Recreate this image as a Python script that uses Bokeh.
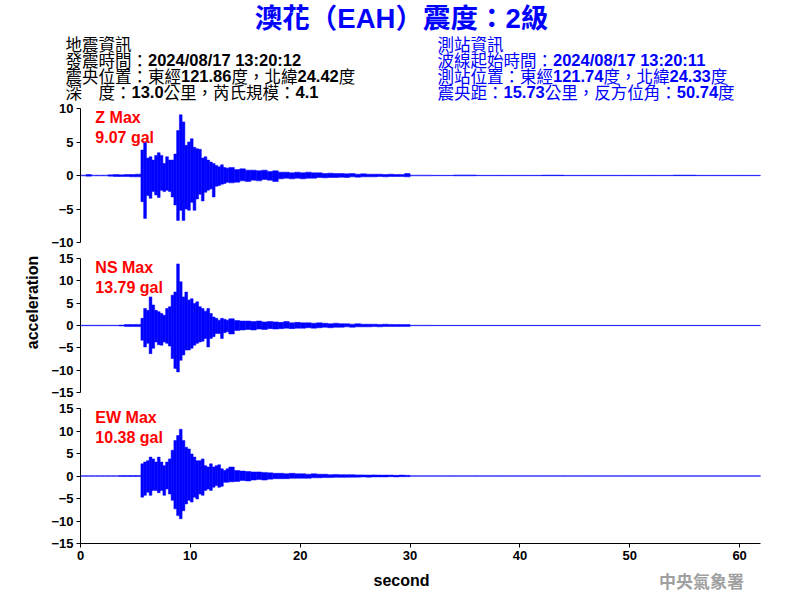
import math
import numpy as np
from bokeh.plotting import figure
from bokeh.layouts import column, row
from bokeh.models import Range1d, FixedTicker, Label
from bokeh.embed import file_html
from bokeh.resources import INLINE

# ---------------- data ----------------
title_text = "澳花（EAH）震度：2級"
quake_info = ["地震資訊",
              "發震時間：2024/08/17 13:20:12",
              "震央位置：東經121.86度，北緯24.42度",
              "深　度：13.0公里，芮氏規模：4.1"]
station_info = ["測站資訊",
                "波線起始時間：2024/08/17 13:20:11",
                "測站位置：東經121.74度，北緯24.33度",
                "震央距：15.73公里，反方位角：50.74度"]
components = ["Z", "NS", "EW"]
max_gal = ["9.07", "13.79", "10.38"]
y_limits = [10, 15, 15]
y_ticks = [[-10, -5, 0, 5, 10], [-15, -10, -5, 0, 5, 10, 15], [-15, -10, -5, 0, 5, 10, 15]]
x_ticks = [0, 10, 20, 30, 40, 50, 60]
x_max = 61.9

# time bins (start, end, width) for the envelope segments
seg_pre = (0.0, 5.5, 0.5)
seg_dense = (5.5, 13.5, 0.25)
seg_coda = (13.5, 30.0, 0.5)
seg_tail = (30.0, 62.0, 2.0)

# Z component envelope (gal)
z_pre_up = [0.05, 0.15, 0.05, 0.05, 0.05, 0.1, 0.15, 0.1, 0.15, 0.15, 0.2]
z_pre_lo = [-0.05, -0.1, -0.05, -0.05, -0.05, -0.1, -0.15, -0.15, -0.15, -0.2, -0.2]
z_up = [3.8, 5.0, 2.6, 2.8, 2.3, 3.0, 3.4, 3.0, 1.8, 2.8, 2.3, 2.3, 3.2, 6.7, 9.07, 8.0,
        4.5, 5.0, 5.5, 4.2, 4.0, 3.9, 2.6, 2.8, 2.3, 2.0, 1.8, 1.5, 1.3, 1.6, 1.2, 1.1]
z_lo = [-3.9, -6.4, -3.0, -3.4, -2.4, -2.9, -3.3, -2.2, -2.4, -2.2, -2.4, -3.2, -4.4, -6.7, -5.2, -6.7,
        -5.0, -5.2, -4.0, -5.2, -3.5, -2.8, -3.8, -2.5, -2.2, -2.0, -3.2, -1.6, -1.5, -1.3, -1.2, -1.0]
z_coda_up = [1.2, 0.9, 1.0, 0.8, 0.8, 0.7, 0.8, 0.6, 0.7, 0.5, 0.5, 0.4, 0.5, 0.4, 0.5, 0.4, 0.4,
             0.3, 0.35, 0.3, 0.3, 0.25, 0.3, 0.2, 0.25, 0.2, 0.2, 0.2, 0.15, 0.2, 0.15, 0.15, 0.3]
z_coda_lo = [-1.1, -1.0, -0.8, -0.9, -0.7, -0.8, -0.6, -0.7, -0.9, -0.5, -0.4, -0.5, -0.4, -0.5, -0.4, -0.4,
             -0.3, -0.35, -0.3, -0.3, -0.25, -0.3, -0.2, -0.25, -0.2, -0.2, -0.2, -0.15, -0.2, -0.15, -0.15, -0.15, -0.2]
z_tail_up = [0.05, 0.03, 0.08, 0.03, 0.03, 0.03, 0.06, 0.03, 0.03, 0.03, 0.03, 0.03, 0.06, 0.03, 0.03, 0.03]
z_tail_lo = [-0.05, -0.03, -0.05, -0.03, -0.03, -0.03, -0.03, -0.03, -0.03, -0.03, -0.03, -0.03, -0.03, -0.03, -0.03, -0.03]

# NS component envelope (gal)
ns_pre_up = [0.05, 0.05, 0.05, 0.05, 0.05, 0.05, 0.05, 0.1, 0.2, 0.2, 0.25]
ns_pre_lo = [-0.05, -0.05, -0.05, -0.05, -0.05, -0.05, -0.05, -0.1, -0.2, -0.2, -0.25]
ns_up = [1.6, 3.8, 3.4, 6.4, 4.6, 3.4, 3.1, 2.7, 2.3, 3.8, 4.2, 6.8, 7.5, 13.79, 9.8, 6.4,
         7.5, 5.7, 6.0, 4.9, 5.3, 4.2, 3.8, 3.2, 3.8, 2.7, 1.9, 1.6, 1.2, 1.6, 1.4, 1.2]
ns_lo = [-3.3, -4.8, -4.0, -6.3, -5.1, -3.7, -4.3, -4.4, -3.7, -4.0, -4.6, -7.4, -9.6, -10.4, -7.8, -6.6,
         -5.5, -5.5, -5.1, -4.4, -4.0, -3.7, -3.5, -2.9, -4.8, -2.9, -2.5, -1.8, -1.8, -2.9, -1.6, -1.4]
ns_coda_up = [1.5, 1.1, 1.0, 1.0, 0.9, 1.0, 0.8, 0.9, 0.8, 0.7, 0.9, 0.6, 0.7, 0.6, 0.6, 0.5, 0.6,
              0.5, 0.4, 0.5, 0.4, 0.4, 0.3, 0.4, 0.3, 0.3, 0.3, 0.25, 0.3, 0.25, 0.2, 0.2, 0.2]
ns_coda_lo = [-1.9, -1.1, -1.0, -0.9, -1.0, -0.8, -0.9, -0.7, -0.8, -0.7, -0.6, -0.7, -0.6, -0.6, -0.5, -0.6,
              -0.5, -0.4, -0.5, -0.4, -0.4, -0.3, -0.4, -0.3, -0.3, -0.3, -0.25, -0.3, -0.2, -0.2, -0.2, -0.2, -0.2]
ns_tail_up = [0.05, 0.03, 0.03, 0.03, 0.03, 0.03, 0.03, 0.03, 0.03, 0.03, 0.03, 0.03, 0.03, 0.03, 0.03, 0.03]
ns_tail_lo = [-0.05, -0.03, -0.03, -0.03, -0.03, -0.03, -0.03, -0.03, -0.03, -0.03, -0.03, -0.03, -0.03, -0.03, -0.03, -0.03]

# EW component envelope (gal)
ew_pre_up = [0.05, 0.05, 0.05, 0.05, 0.05, 0.05, 0.05, 0.1, 0.1, 0.1, 0.1]
ew_pre_lo = [-0.05, -0.05, -0.05, -0.05, -0.05, -0.05, -0.05, -0.1, -0.1, -0.1, -0.1]
ew_up = [2.7, 3.1, 3.4, 4.2, 3.8, 3.1, 4.2, 3.1, 2.3, 3.1, 3.8, 5.7, 7.9, 9.0, 10.38, 7.9,
         6.4, 6.0, 4.9, 4.2, 3.4, 3.4, 3.8, 2.3, 2.0, 2.7, 2.0, 2.3, 2.5, 1.6, 1.2, 1.6]
ew_lo = [-4.7, -4.3, -3.6, -4.3, -3.2, -3.2, -3.7, -3.2, -4.3, -2.9, -4.0, -5.4, -7.3, -8.8, -9.5, -7.7,
         -6.2, -5.4, -5.8, -4.7, -5.1, -4.0, -4.3, -3.2, -2.9, -3.2, -2.5, -2.1, -2.5, -2.3, -1.4, -1.4]
ew_coda_up = [2.0, 1.2, 1.1, 1.0, 0.9, 0.9, 0.8, 0.7, 0.6, 0.6, 0.5, 0.6, 0.5, 0.5, 0.4, 0.5, 0.4,
              0.4, 0.3, 0.35, 0.3, 0.3, 0.3, 0.25, 0.25, 0.2, 0.25, 0.2, 0.2, 0.2, 0.15, 0.2, 0.15]
ew_coda_lo = [-1.3, -1.2, -1.0, -1.1, -0.9, -0.8, -0.9, -0.7, -0.6, -0.6, -0.6, -0.5, -0.5, -0.5, -0.5, -0.4,
              -0.4, -0.35, -0.35, -0.3, -0.3, -0.3, -0.25, -0.25, -0.2, -0.25, -0.2, -0.2, -0.2, -0.15, -0.2, -0.15, -0.15]
ew_tail_up = [0.03] * 16
ew_tail_lo = [-0.03] * 16

traces = {
    "Z": (z_pre_up + z_up + z_coda_up + z_tail_up, z_pre_lo + z_lo + z_coda_lo + z_tail_lo),
    "NS": (ns_pre_up + ns_up + ns_coda_up + ns_tail_up, ns_pre_lo + ns_lo + ns_coda_lo + ns_tail_lo),
    "EW": (ew_pre_up + ew_up + ew_coda_up + ew_tail_up, ew_pre_lo + ew_lo + ew_coda_lo + ew_tail_lo),
}

# ---------------- helpers ----------------
FONT = "Liberation Sans, Noto Sans CJK TC"
BLUE = "#0000ff"
# advance widths (em) of Liberation Sans Bold for the ASCII characters used
ASCII_W = {c: 0.556 for c in "0123456789"}
ASCII_W.update({".": 0.278, "/": 0.278, ":": 0.333, " ": 0.278})
HDR_H = 108
OVERLAP = 8


def bin_edges():
    lefts, rights = [], []
    for a, b, s in (seg_pre, seg_dense, seg_coda, seg_tail):
        e = np.arange(a, b + s / 2, s)
        lefts += list(e[:-1])
        rights += list(e[1:])
    return lefts, rights


LEFTS, RIGHTS = bin_edges()


def blank(w, h, xr, yr, **kw):
    f = figure(width=w, height=h, x_range=xr, y_range=yr, x_axis_type=None, y_axis_type=None,
               output_backend="svg", toolbar_location=None, min_border=0,
               outline_line_color=None, **kw)
    f.grid.visible = False
    return f


def info_line(fig, x, y, s, color, size=16.5):
    runs = []
    for ch in s:
        a = ch.isascii()
        if runs and runs[-1][1] == a:
            runs[-1][0] += ch
        else:
            runs.append([ch, a])
    for txt, a in runs:
        if a:
            fig.add_layout(Label(x=x, y=y, text=txt, text_font="Liberation Sans",
                                 text_font_size=f"{size}px", text_font_style="bold",
                                 text_color=color, text_baseline="middle"))
            x += sum(ASCII_W.get(c, 0.556) for c in txt) * size
        else:
            fig.add_layout(Label(x=x, y=y + 0.5, text=txt, text_font="Noto Sans CJK TC",
                                 text_font_size=f"{size}px", text_font_style="normal",
                                 text_color=color, text_baseline="middle"))
            x += len(txt) * size


# ---------------- header (page coordinates) ----------------
hdr = blank(800, HDR_H, Range1d(0, 800), Range1d(HDR_H, 0), margin=(0, 0, -OVERLAP, 0))
hdr.add_layout(Label(x=401, y=18, text=title_text, text_font=FONT, text_font_size="27.5px",
                     text_font_style="bold", text_color=BLUE, text_align="center",
                     text_baseline="middle"))
for i, line in enumerate(quake_info):
    info_line(hdr, 65, 43 + 16 * i, line, "black")
for i, line in enumerate(station_info):
    info_line(hdr, 437, 43 + 16 * i, line, BLUE)

# ---------------- left strip with the y title ----------------
leftcol = blank(40, 468, Range1d(0, 40), Range1d(0, 468),
                background_fill_alpha=0, border_fill_alpha=0)
leftcol.add_layout(Label(x=32, y=266, text="acceleration", angle=math.pi / 2,
                         text_font="Liberation Sans", text_font_size="16px",
                         text_font_style="bold", text_color="black",
                         text_align="center", text_baseline="middle"))

# ---------------- panels ----------------
panels = []
heights = [150, 150, 168]
bottoms = [8, 8, 25]
for k, comp in enumerate(components):
    lim = y_limits[k]
    p = figure(width=760, height=heights[k], x_range=Range1d(0, x_max), y_range=Range1d(-lim, lim),
               output_backend="svg", toolbar_location=None,
               min_border_left=40, min_border_right=40, min_border_top=8,
               min_border_bottom=bottoms[k], outline_line_color=None,
               border_fill_alpha=0, background_fill_alpha=0)
    p.grid.visible = False
    up, lo = traces[comp]
    p.quad(left=LEFTS, right=RIGHTS, bottom=lo, top=up, fill_color=BLUE,
           line_color=BLUE, line_width=0.5)

    p.yaxis.ticker = FixedTicker(ticks=y_ticks[k])
    p.yaxis.minor_tick_line_color = None
    p.yaxis.major_tick_out = 4
    p.yaxis.major_tick_in = 0
    p.yaxis.major_label_standoff = 3
    p.yaxis.major_label_text_font = "Liberation Sans"
    p.yaxis.major_label_text_font_style = "bold"
    p.yaxis.major_label_text_font_size = "13px"
    p.yaxis.major_label_text_color = "black"
    p.yaxis.axis_line_color = "black"

    if k < 2:
        p.xaxis.visible = False
    else:
        p.xaxis.ticker = FixedTicker(ticks=x_ticks)
        p.xaxis.minor_tick_line_color = None
        p.xaxis.major_tick_out = 4
        p.xaxis.major_tick_in = 0
        p.xaxis.major_label_standoff = 3
        p.xaxis.major_label_text_font = "Liberation Sans"
        p.xaxis.major_label_text_font_style = "bold"
        p.xaxis.major_label_text_font_size = "13px"
        p.xaxis.major_label_text_color = "black"
        p.xaxis.axis_line_color = "black"

    # max labels (red)
    px_per_unit = 134.0 / (2 * lim)
    top_y = lim - 9.0 / px_per_unit
    step_y = 20.0 / px_per_unit
    p.add_layout(Label(x=1.35, y=top_y, text=f"{comp} Max", text_font="Liberation Sans",
                       text_font_size="16px", text_font_style="bold", text_color="#ff0000",
                       text_baseline="middle"))
    p.add_layout(Label(x=1.35, y=top_y - step_y, text=f"{max_gal[k]} gal", text_font="Liberation Sans",
                       text_font_size="16px", text_font_style="bold", text_color="#ff0000",
                       text_baseline="middle"))
    panels.append(p)

# ---------------- footer (page-x coordinates) ----------------
footer = blank(800, 30, Range1d(0, 800), Range1d(30, 0))
footer.add_layout(Label(x=401, y=12, text="second", text_font="Liberation Sans",
                        text_font_size="16px", text_font_style="bold", text_color="black",
                        text_align="center", text_baseline="middle"))
footer.add_layout(Label(x=701, y=12, text="中央氣象署", text_font="Noto Sans CJK TC",
                        text_font_size="17px", text_font_style="bold", text_color="#a0a0a0",
                        text_align="center", text_baseline="middle"))

layout = column(hdr, row(leftcol, column(*panels, spacing=0), spacing=0), footer, spacing=0)
open("out.html", "w").write(file_html(layout, INLINE))
